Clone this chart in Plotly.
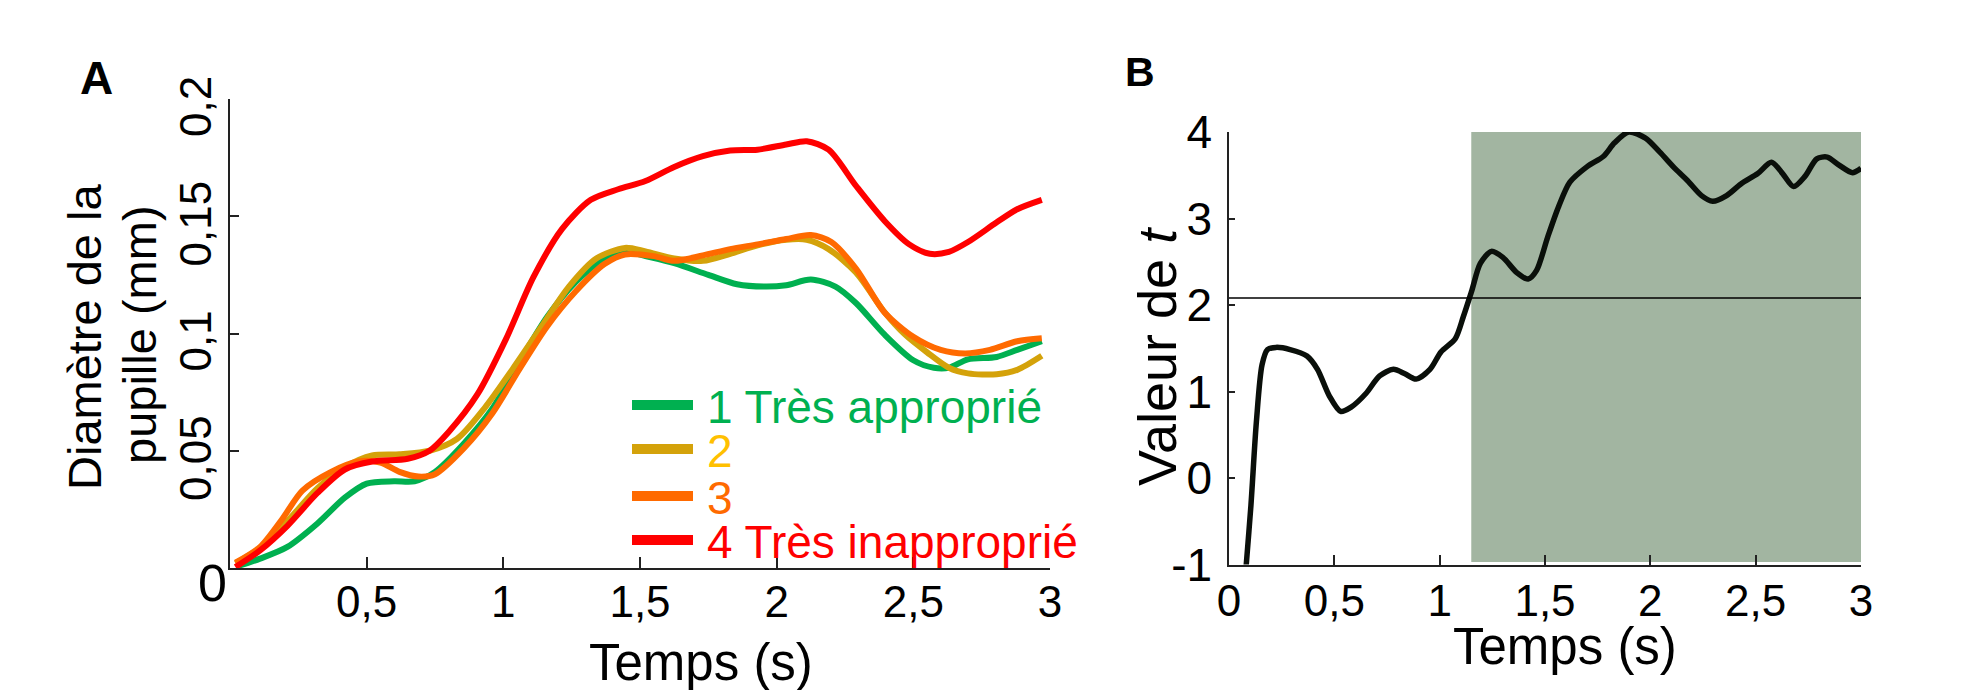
import plotly.graph_objects as go

W, H = 1973, 690
FONT = "Liberation Sans, Arial, sans-serif"
OFF = 8  # page body margin compensation

# ---------------- Data: panel A (pupil diameter, mm) ----------------
t_green = [0.033, 0.11, 0.21, 0.32, 0.42, 0.50, 0.60, 0.675, 0.75, 0.855, 0.96, 1.06, 1.16, 1.265, 1.37,
           1.445, 1.52, 1.625, 1.75, 1.855, 1.96, 2.035, 2.125, 2.215, 2.29, 2.395, 2.50, 2.575, 2.63,
           2.70, 2.805, 2.88, 2.97]
y_green = [0.001, 0.004, 0.009, 0.019, 0.030, 0.036, 0.037, 0.037, 0.041, 0.053, 0.068, 0.088, 0.107,
           0.122, 0.132, 0.135, 0.133, 0.130, 0.125, 0.121, 0.120, 0.1206, 0.123, 0.120, 0.113, 0.0995,
           0.0886, 0.0854, 0.0854, 0.089, 0.090, 0.093, 0.0967]

t_gold = [0.02, 0.11, 0.21, 0.32, 0.42, 0.52, 0.62, 0.73, 0.83, 0.93, 1.035, 1.14, 1.24, 1.34, 1.445,
          1.52, 1.625, 1.73, 1.83, 1.93, 2.035, 2.11, 2.19, 2.29, 2.395, 2.47, 2.55, 2.63, 2.70, 2.805,
          2.88, 2.97]
y_gold = [0.002, 0.0085, 0.020, 0.034, 0.043, 0.048, 0.0485, 0.050, 0.055, 0.068, 0.085, 0.103, 0.120,
          0.132, 0.1365, 0.135, 0.132, 0.131, 0.134, 0.1376, 0.140, 0.140, 0.136, 0.126, 0.109, 0.0995,
          0.092, 0.0854, 0.083, 0.0826, 0.0845, 0.0905]

t_orange = [0.02, 0.11, 0.19, 0.265, 0.37, 0.47, 0.55, 0.62, 0.69, 0.75, 0.855, 0.96, 1.06, 1.16, 1.265,
            1.37, 1.445, 1.55, 1.625, 1.73, 1.83, 1.93, 2.035, 2.125, 2.20, 2.29, 2.395, 2.50, 2.60,
            2.69, 2.78, 2.88, 2.97]
y_orange = [0.0023, 0.009, 0.0207, 0.033, 0.041, 0.0454, 0.045, 0.041, 0.039, 0.040, 0.051, 0.066,
            0.085, 0.103, 0.118, 0.1296, 0.1337, 0.133, 0.131, 0.1333, 0.136, 0.138, 0.1403, 0.142,
            0.139, 0.1277, 0.109, 0.0986, 0.093, 0.0915, 0.093, 0.0967, 0.098]

t_red = [0.02, 0.11, 0.21, 0.32, 0.42, 0.52, 0.65, 0.73, 0.80, 0.905, 1.01, 1.11, 1.215, 1.32, 1.42,
         1.52, 1.625, 1.73, 1.83, 1.93, 2.035, 2.11, 2.19, 2.29, 2.395, 2.485, 2.56, 2.63, 2.70, 2.805,
         2.88, 2.97]
y_red = [0.0004, 0.0075, 0.018, 0.032, 0.042, 0.0454, 0.0466, 0.050, 0.058, 0.074, 0.0977, 0.124,
         0.1446, 0.157, 0.1615, 0.165, 0.171, 0.1756, 0.178, 0.1784, 0.1806, 0.182, 0.1784, 0.163,
         0.148, 0.138, 0.134, 0.1348, 0.139, 0.1474, 0.153, 0.157]

legend_labels = ["1 Très approprié", "2", "3", "4 Très inapproprié"]
line_colors = ["#00B050", "#D4A20A", "#FF6A00", "#FF0000"]
text_colors = ["#00B050", "#FFC000", "#FF6A00", "#FF0000"]

a_xticks = [0.5, 1, 1.5, 2, 2.5, 3]
a_xticktext = ["0,5", "1", "1,5", "2", "2,5", "3"]
a_yticks = [0.05, 0.1, 0.15, 0.2]
a_yticktext = ["0,05", "0,1", "0,15", "0,2"]

# ---------------- Data: panel B (t value) ----------------
t_b = [0.07, 0.082, 0.104, 0.13, 0.157, 0.183, 0.223, 0.29, 0.37, 0.42, 0.476, 0.53, 0.58, 0.65, 0.715,
       0.78, 0.835, 0.888, 0.954, 1.007, 1.074, 1.113, 1.153, 1.193, 1.246, 1.30, 1.366, 1.42, 1.46,
       1.512, 1.565, 1.618, 1.70, 1.778, 1.83, 1.897, 1.977, 2.044, 2.12, 2.176, 2.243, 2.296, 2.362,
       2.43, 2.51, 2.575, 2.628, 2.68, 2.735, 2.79, 2.84, 2.894, 2.96, 3.0]
tval_b = [-1.4, -1.0, -0.32, 0.65, 1.31, 1.485, 1.51, 1.485, 1.41, 1.256, 0.95, 0.77, 0.82, 0.977, 1.18,
          1.256, 1.205, 1.144, 1.256, 1.46, 1.61, 1.87, 2.17, 2.48, 2.62, 2.55, 2.375, 2.30, 2.40,
          2.78, 3.14, 3.42, 3.60, 3.72, 3.875, 4.0, 3.93, 3.77, 3.57, 3.44, 3.265, 3.20, 3.265,
          3.40, 3.52, 3.65, 3.52, 3.37, 3.49, 3.69, 3.71, 3.62, 3.53, 3.58]
t_crit = 2.08
sig_start, sig_end = 1.15, 3.0
sig_low, sig_high = -0.97, 4.0

b_xticks = [0, 0.5, 1, 1.5, 2, 2.5, 3]
b_xticktext = ["0", "0,5", "1", "1,5", "2", "2,5", "3"]
b_yticks = [-1, 0, 1, 2, 3, 4]
b_yticktext = ["-1", "0", "1", "2", "3", "4"]


def px(x):
    return (x - OFF) / W


def py(y):
    return 1 - (y - OFF) / H


fig = go.Figure()

series_a = [(t_green, y_green), (t_gold, y_gold), (t_orange, y_orange), (t_red, y_red)]
for (tx, ty), lab, col in zip(series_a, legend_labels, line_colors):
    fig.add_trace(go.Scatter(x=tx, y=ty, mode="lines", name=lab, xaxis="x", yaxis="y",
                             line=dict(color=col, width=6, shape="spline", smoothing=0.8),
                             showlegend=False, hoverinfo="skip"))

fig.add_trace(go.Scatter(x=t_b, y=tval_b, mode="lines", xaxis="x2", yaxis="y2",
                         line=dict(color="#0a0f0a", width=5.5, shape="spline", smoothing=0.8),
                         showlegend=False, hoverinfo="skip"))
fig.add_trace(go.Scatter(x=[0, sig_end], y=[t_crit, t_crit], mode="lines", xaxis="x2", yaxis="y2",
                         line=dict(color="black", width=1.5), showlegend=False, hoverinfo="skip"))

axis_common = dict(showgrid=False, zeroline=False, showline=True, linecolor="#222", linewidth=1.5,
                   ticks="inside", tickcolor="#222", tickwidth=1.5, mirror=False, fixedrange=True,
                   automargin=False,
                   tickfont=dict(family=FONT, size=44, color="black"))

fig.update_layout(
    template=go.layout.Template(),
    width=W, height=H, margin=dict(l=0, r=0, t=0, b=0, pad=0, autoexpand=False),
    autosize=False,
    paper_bgcolor="white", plot_bgcolor="rgba(0,0,0,0)", showlegend=False,
    xaxis=dict(axis_common, domain=[px(230), px(1050)], range=[0, 3], anchor="y",
               tickvals=a_xticks, ticktext=a_xticktext, ticklen=11, ticklabelstandoff=-6),
    yaxis=dict(axis_common, domain=[py(568), py(99)], range=[0, 0.2], anchor="x",
               tickvals=a_yticks, ticktext=a_yticktext, ticklen=9, tickangle=-90,
               ticklabelstandoff=0, ticklabelshift=14),
    xaxis2=dict(axis_common, domain=[px(1229), px(1861)], range=[0, 3], anchor="y2",
                tickvals=b_xticks, ticktext=b_xticktext, ticklen=10, ticklabelstandoff=-3),
    yaxis2=dict(axis_common, domain=[py(564.5), py(132)], range=[-1, 4], anchor="x2",
                tickvals=b_yticks, ticktext=b_yticktext, ticklen=6, ticklabelstandoff=6,
                tickfont=dict(family=FONT, size=46, color="black")),
)

fig.add_shape(type="rect", xref="x2", yref="y2", x0=sig_start, x1=sig_end, y0=sig_low, y1=sig_high,
              fillcolor="#A2B5A1", line=dict(width=0), layer="below")

# legend of panel A drawn as short segments + coloured labels
leg_y = [405, 449, 496, 540]
for yy, col, tcol, lab in zip(leg_y, line_colors, text_colors, legend_labels):
    fig.add_shape(type="line", xref="paper", yref="paper", x0=px(632), x1=px(693), y0=py(yy), y1=py(yy),
                  line=dict(color=col, width=10))
    fig.add_annotation(xref="paper", yref="paper", x=px(705), y=py(yy + 2), text=lab, showarrow=False,
                       xanchor="left", yanchor="middle",
                       font=dict(family=FONT, size=46, color=tcol))

annots = [
    dict(x=px(96), y=py(78), text="<b>A</b>", size=46, angle=0),
    dict(x=px(1140), y=py(72), text="<b>B</b>", size=41, angle=0),
    dict(x=px(212), y=py(583), text="0", size=52, angle=0),
    dict(x=px(84), y=py(337), text="Diamètre de la", size=47, angle=-90),
    dict(x=px(140), y=py(335), text="pupille (mm)", size=47, angle=-90),
    dict(x=px(701), y=py(662), text="Temps (s)", size=51, angle=0),
    dict(x=px(1565), y=py(646), text="Temps (s)", size=51, angle=0),
    dict(x=px(1157), y=py(357), text="Valeur de <i>t</i>", size=54, angle=-90),
]
for a in annots:
    fig.add_annotation(xref="paper", yref="paper", x=a["x"], y=a["y"], text=a["text"], showarrow=False,
                       xanchor="center", yanchor="middle", textangle=a["angle"],
                       font=dict(family=FONT, size=a["size"], color="black"))

fig.write_html("out.html")
